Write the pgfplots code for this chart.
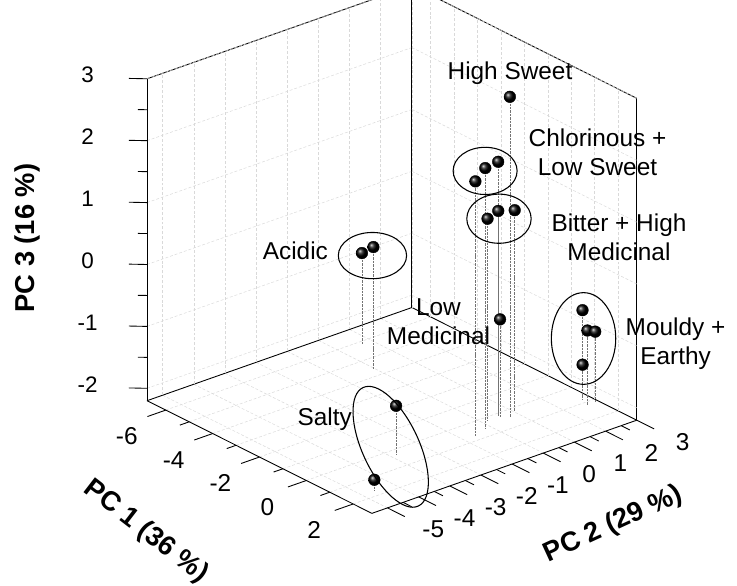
\documentclass[border=0pt]{standalone}
\usepackage{fontspec}
\setmainfont{Liberation Sans}
\usepackage{pgfplots}
\pgfplotsset{compat=1.18}
\usetikzlibrary{calc}

\begin{document}
\begin{tikzpicture}
\begin{axis}[
  x={(24.01pt,-12.03pt)}, y={(31.94pt,11.235pt)}, z={(0pt,63.46pt)},
  xmin=-6.8, xmax=2.8, ymin=-5.5, ymax=3, zmin=-2.2, zmax=3,
  xtick={-6,-4,...,2}, minor x tick num=1,
  ytick={-5,...,3},
  ztick={-2,...,3},
  grid=major, xminorgrids=true,
  grid style={densely dashed, black!15, line width=0.5pt},
  minor grid style={densely dashed, black!15, line width=0.5pt},
  major tick length=0pt, minor tick length=0pt,
  axis line style={line width=0.9pt},
  clip=false,
  unbounded coords=jump,
  /pgf/number format/assume math mode=true,
  tick label style={font=\fontsize{25}{25}\selectfont},
  xticklabel style={anchor=center, xshift=-40pt, yshift=-27pt},
  yticklabel style={anchor=center, xshift=47pt, yshift=-22pt},
  zticklabel style={anchor=center, xshift=-61pt, yshift=4pt, font=\fontsize{23}{23}\selectfont},
]
\coordinate (O) at (axis cs:-6.8,-5.5,-2.2);

% tick marks (outside, long at labels, short between)
\addplot3[black, line width=0.9pt] coordinates {
  (-6,-5.5,-2.2) (-6,-6.09,-2.2) (nan,nan,nan)
  (-4,-5.5,-2.2) (-4,-6.09,-2.2) (nan,nan,nan)
  (-2,-5.5,-2.2) (-2,-6.09,-2.2) (nan,nan,nan)
  (0,-5.5,-2.2) (0,-6.09,-2.2) (nan,nan,nan)
  (2,-5.5,-2.2) (2,-6.09,-2.2) (nan,nan,nan)
  (-5,-5.5,-2.2) (-5,-5.8,-2.2) (nan,nan,nan)
  (-3,-5.5,-2.2) (-3,-5.8,-2.2) (nan,nan,nan)
  (-1,-5.5,-2.2) (-1,-5.8,-2.2) (nan,nan,nan)
  (1,-5.5,-2.2) (1,-5.8,-2.2) (nan,nan,nan)
  (2.8,-5,-2.2) (3.54,-5,-2.2) (nan,nan,nan)
  (2.8,-4,-2.2) (3.54,-4,-2.2) (nan,nan,nan)
  (2.8,-3,-2.2) (3.54,-3,-2.2) (nan,nan,nan)
  (2.8,-2,-2.2) (3.54,-2,-2.2) (nan,nan,nan)
  (2.8,-1,-2.2) (3.54,-1,-2.2) (nan,nan,nan)
  (2.8,0,-2.2) (3.54,0,-2.2) (nan,nan,nan)
  (2.8,1,-2.2) (3.54,1,-2.2) (nan,nan,nan)
  (2.8,2,-2.2) (3.54,2,-2.2) (nan,nan,nan)
  (2.8,3,-2.2) (3.54,3,-2.2) (nan,nan,nan)
  (2.8,-4.5,-2.2) (3.17,-4.5,-2.2) (nan,nan,nan)
  (2.8,-3.5,-2.2) (3.17,-3.5,-2.2) (nan,nan,nan)
  (2.8,-2.5,-2.2) (3.17,-2.5,-2.2) (nan,nan,nan)
  (2.8,-1.5,-2.2) (3.17,-1.5,-2.2) (nan,nan,nan)
  (2.8,-0.5,-2.2) (3.17,-0.5,-2.2) (nan,nan,nan)
  (2.8,0.5,-2.2) (3.17,0.5,-2.2) (nan,nan,nan)
  (2.8,1.5,-2.2) (3.17,1.5,-2.2) (nan,nan,nan)
  (2.8,2.5,-2.2) (3.17,2.5,-2.2) (nan,nan,nan)
  (-6.8,-5.5,-2) (-7.14,-5.83,-2) (nan,nan,nan)
  (-6.8,-5.5,-1) (-7.14,-5.83,-1) (nan,nan,nan)
  (-6.8,-5.5,0) (-7.14,-5.83,0) (nan,nan,nan)
  (-6.8,-5.5,1) (-7.14,-5.83,1) (nan,nan,nan)
  (-6.8,-5.5,2) (-7.14,-5.83,2) (nan,nan,nan)
  (-6.8,-5.5,3) (-7.14,-5.83,3) (nan,nan,nan)
  (-6.8,-5.5,-1.5) (-6.97,-5.67,-1.5) (nan,nan,nan)
  (-6.8,-5.5,-0.5) (-6.97,-5.67,-0.5) (nan,nan,nan)
  (-6.8,-5.5,0.5) (-6.97,-5.67,0.5) (nan,nan,nan)
  (-6.8,-5.5,1.5) (-6.97,-5.67,1.5) (nan,nan,nan)
  (-6.8,-5.5,2.5) (-6.97,-5.67,2.5)
};

% drop lines to the floor
\addplot3[black!55, line width=0.5pt, dash pattern=on 2.5pt off 1pt] coordinates {
  (0.43,0.71,2.98) (0.43,0.71,-2.2) (nan,nan,nan)
  (0.74,-0.63,1.91) (0.74,-0.63,-2.2) (nan,nan,nan)
  (0.59,-0.20,2.02) (0.59,-0.20,-2.2) (nan,nan,nan)
  (0.13,0.56,1.90) (0.13,0.56,-2.2) (nan,nan,nan)
  (0.22,0.15,1.07) (0.22,0.15,-2.2) (nan,nan,nan)
  (0.08,0.60,1.09) (0.08,0.60,-2.2) (nan,nan,nan)
  (0.21,1.03,1.05) (0.21,1.03,-2.2) (nan,nan,nan)
  (0.21,0.56,-0.63) (0.21,0.56,-2.2) (nan,nan,nan)
  (-5.82,0.66,-0.72) (-5.82,0.66,-2.2) (nan,nan,nan)
  (-4.40,-0.04,-0.23) (-4.40,-0.04,-2.2) (nan,nan,nan)
  (0.83,2.74,-0.75) (0.83,2.74,-2.2) (nan,nan,nan)
  (1.16,2.65,-1.00) (1.16,2.65,-2.2) (nan,nan,nan)
  (1.20,2.87,-1.05) (1.20,2.87,-2.2) (nan,nan,nan)
  (0.74,2.81,-1.66) (0.74,2.81,-2.2) (nan,nan,nan)
  (0.32,-2.86,-1.40) (0.32,-2.86,-2.2) (nan,nan,nan)
  (1.72,-4.61,-2.02) (1.72,-4.61,-2.2)
};

% samples
\addplot3[only marks, mark=ball, mark size=6pt, mark options={ball color=black}] coordinates {
  (0.43,0.71,2.98)
  (0.74,-0.63,1.91) (0.59,-0.20,2.02) (0.13,0.56,1.90)
  (0.22,0.15,1.07) (0.08,0.60,1.09) (0.21,1.03,1.05)
  (0.21,0.56,-0.63)
  (-5.82,0.66,-0.72) (-4.40,-0.04,-0.23)
  (0.83,2.74,-0.75) (1.16,2.65,-1.00) (1.20,2.87,-1.05) (0.74,2.81,-1.66)
  (0.32,-2.86,-1.40) (1.72,-4.61,-2.02)
};
\end{axis}

\coordinate (P) at ($(O)+(-141.25pt,395.75pt)$);
\begin{scope}[shift={(P)}, x=1pt, y=-1pt, font=\fontsize{25}{30}\selectfont]
  \node at (513.3,60) {High Sweet};
  \node[align=center] at (603,141) {Chlorinous +\\Low Sweet};
  \node[align=center] at (625,228) {Bitter + High\\Medicinal};
  \node at (293.3,241.7) {Acidic};
  \node[align=center] at (440,315) {Low\\Medicinal};
  \node[align=center] at (683,337) {Mouldy +\\Earthy};
  \node at (323.3,415) {Salty};

  \draw[line width=1.1pt] (372.3,247) ellipse [x radius=35, y radius=23.7];
  \draw[line width=1.1pt] (487.8,160.2) ellipse [x radius=32.8, y radius=24.2];
  \draw[line width=1.1pt] (502,209.2) ellipse [x radius=33, y radius=25.2];
  \draw[line width=1.1pt] (588.7,332) ellipse [x radius=33, y radius=47];
  \draw[line width=1.1pt, rotate around={-65:(391,443)}] (391,443) ellipse [x radius=67, y radius=29];

  \node[rotate=90, font=\fontsize{28}{28}\selectfont\bfseries] at (19,229) {PC 3 (16 \%)};
  \node[rotate=-37.6, font=\fontsize{28}{28}\selectfont\bfseries] at (140,530) {PC 1 (36 \%)};
  \node[rotate=24.7, font=\fontsize{28}{28}\selectfont\bfseries] at (619,523) {PC 2 (29 \%)};
\end{scope}

\pgfresetboundingbox
\path[use as bounding box] ($(P)+(-9.5pt,15pt)$) rectangle ($(P)+(746pt,-585pt)$);
\end{tikzpicture}
\end{document}
